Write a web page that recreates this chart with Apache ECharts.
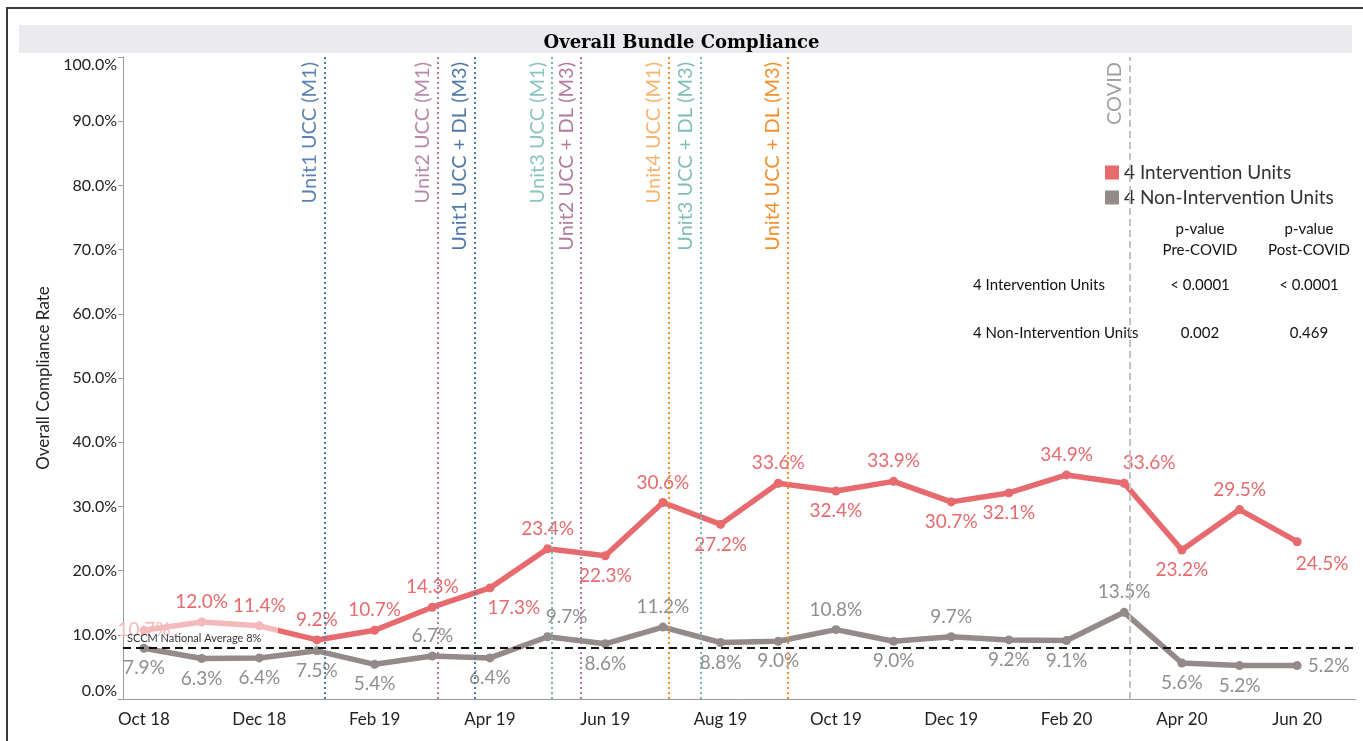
<!DOCTYPE html>
<html>
<head>
<meta charset="utf-8">
<title>Overall Bundle Compliance</title>
<script src="https://cdn.jsdelivr.net/npm/echarts@6/dist/echarts.min.js"></script>
<style>
  html, body { margin: 0; padding: 0; background: #fff; }
  #chart { width: 1363px; height: 741px; }
</style>
</head>
<body>
<div id="chart"></div>
<script>
// Data
const months = ['Oct 18', 'Nov 18', 'Dec 18', 'Jan 19', 'Feb 19', 'Mar 19', 'Apr 19', 'May 19', 'Jun 19', 'Jul 19', 'Aug 19',
  'Sep 19', 'Oct 19', 'Nov 19', 'Dec 19', 'Jan 20', 'Feb 20', 'Mar 20', 'Apr 20', 'May 20', 'Jun 20'];

const interventionRates = [10.7, 12.0, 11.4, 9.2, 10.7, 14.3, 17.3, 23.4, 22.3, 30.6, 27.2,
  33.6, 32.4, 33.9, 30.7, 32.1, 34.9, 33.6, 23.2, 29.5, 24.5];

const nonInterventionRates = [7.9, 6.3, 6.4, 7.5, 5.4, 6.7, 6.4, 9.7, 8.6, 11.2, 8.8,
  9.0, 10.8, 9.0, 9.7, 9.2, 9.1, 13.5, 5.6, 5.2, 5.2];

// milestones, position in months counted from Oct 18
const milestoneNames = ['Unit1 UCC (M1)', 'Unit2 UCC (M1)', 'Unit1 UCC + DL (M3)', 'Unit3 UCC (M1)',
  'Unit2 UCC + DL (M3)', 'Unit4 UCC (M1)', 'Unit3 UCC + DL (M3)', 'Unit4 UCC + DL (M3)'];
const milestoneAt = [3.14, 5.09, 5.74, 7.08, 7.58, 9.10, 9.65, 11.16];
const covidAt = 17.1;
const nationalAverage = 8;
const fadedUntil = 2.32; // start of the red line is drawn faded

const pHeader = [['p-value', 'Pre-COVID'], ['p-value', 'Post-COVID']];
const pRows = [
  ['4 Intervention Units', '< 0.0001', '< 0.0001'],
  ['4 Non-Intervention Units', '0.002', '0.469'],
];

// styles
const lineColors = ['#4e79a7', '#b07aa1', '#4e79a7', '#76b7b2', '#b07aa1', '#f28e2b', '#76b7b2', '#f28e2b'];
const textColors = ['#5b82b0', '#b987ab', '#4e79a7', '#8cc4bf', '#b07aa1', '#f8b36e', '#7fbdb8', '#f28e2b'];
const redPos = ['inside', 'top', 'top', 'top', 'top', 'top', 'bottom', 'top', 'bottom', 'top', 'bottom',
  'top', 'bottom', 'top', 'bottom', 'bottom', 'top', 'top', 'bottom', 'top', 'bottom'];
const greyPos = ['bottom', 'bottom', 'bottom', 'bottom', 'bottom', 'top', 'bottom', 'top', 'bottom', 'top', 'bottom',
  'bottom', 'top', 'bottom', 'top', 'bottom', 'bottom', 'top', 'bottom', 'bottom', 'right'];
const redOffset = { 6: [24, 0], 17: [25, 0], 20: [25, 2] };
const greyOffset = { 7: [19, 0] };

const RED = '#e66a6e';
const PALE = '#f4b9bb';
const GREY = '#938a89';
const FONT = 'Lato';

var chartDom = document.getElementById('chart');
var myChart = echarts.init(chartDom);
var option;

const redData = interventionRates.map((v, i) => ({
  value: [i, v],
  itemStyle: { color: i < fadedUntil ? PALE : RED },
  label: {
    position: redPos[i],
    offset: redOffset[i] || [0, 0],
    color: i === 0 ? PALE : RED,
  },
}));

const greyData = nonInterventionRates.map((v, i) => ({
  value: [i, v],
  label: { position: greyPos[i], offset: greyOffset[i] || [0, 0] },
}));

const markers = milestoneNames.map((name, i) => ({
  xAxis: milestoneAt[i],
  lineStyle: { color: lineColors[i], type: [2, 3], width: 2 },
  label: { formatter: name, color: textColors[i] },
}));
markers.push({
  xAxis: covidAt,
  lineStyle: { color: '#c4c4c4', type: [7, 4], width: 2 },
  label: { formatter: 'COVID', color: '#a0a0a0' },
});

const tableText = [];
pHeader.forEach((h, c) => {
  h.forEach((t, r) => {
    tableText.push({
      type: 'text', x: [1200, 1309][c], y: 229 + r * 21,
      style: { text: t, fontFamily: FONT, fontSize: 15, fill: '#111', align: 'center', verticalAlign: 'middle' },
    });
  });
});
pRows.forEach((row, r) => {
  row.forEach((t, c) => {
    tableText.push({
      type: 'text', x: [973, 1200, 1309][c], y: 285 + r * 48,
      style: { text: t, fontFamily: FONT, fontSize: 15, fill: '#111', align: c === 0 ? 'left' : 'center', verticalAlign: 'middle' },
    });
  });
});

option = {
  animation: false,
  textStyle: { fontFamily: FONT },
  title: {
    text: 'Overall Bundle Compliance',
    left: 'center',
    top: 29,
    textStyle: { fontFamily: 'DejaVu Serif', fontWeight: 'bold', fontSize: 18, color: '#000' },
  },
  graphic: [
    { type: 'rect', shape: { x: 7, y: 8, width: 1400, height: 800 }, style: { fill: 'none', stroke: '#3a3a3a', lineWidth: 2 }, z: -10 },
    { type: 'rect', shape: { x: 19, y: 25, width: 1333, height: 28 }, style: { fill: '#ebebef' }, z: -9 },
  ].concat(tableText),
  legend: {
    data: ['4 Intervention Units', '4 Non-Intervention Units'],
    orient: 'vertical',
    left: 1100,
    top: 158,
    icon: 'rect',
    itemWidth: 14,
    itemHeight: 14,
    itemGap: 6,
    textStyle: { fontFamily: FONT, fontSize: 19, color: '#333' },
  },
  grid: { left: 123, right: 7, top: 57, bottom: 42 },
  xAxis: {
    type: 'value',
    min: -0.364,
    max: 21.02,
    axisLine: { onZero: false, lineStyle: { color: '#9a9a9a', width: 1 } },
    axisTick: { show: false },
    splitLine: { show: false },
    axisLabel: {
      customValues: months.map((m, i) => i).filter((i) => i % 2 === 0),
      formatter: (v) => months[Math.round(v)],
      color: '#222',
      fontSize: 17,
      margin: 12,
    },
  },
  yAxis: {
    type: 'value',
    min: 0,
    max: 100,
    interval: 10,
    name: 'Overall Compliance Rate',
    nameLocation: 'middle',
    nameGap: 71,
    nameTextStyle: { color: '#222', fontSize: 17 },
    axisLine: { show: true, onZero: false, lineStyle: { color: '#9a9a9a' } },
    axisTick: { show: true, length: 5, lineStyle: { color: '#9a9a9a' } },
    splitLine: { show: false },
    axisLabel: {
      formatter: (v) => v.toFixed(1) + '%',
      color: '#222',
      fontSize: 16,
      margin: 6,
      verticalAlignMinLabel: 'bottom',
      verticalAlignMaxLabel: 'top',
    },
  },
  series: [
    {
      name: '4 Intervention Units',
      type: 'line',
      data: redData,
      symbol: 'circle',
      symbolSize: 9,
      itemStyle: { color: RED },
      lineStyle: { width: 5.5, color: RED },
      label: {
        show: true,
        formatter: (p) => p.value[1].toFixed(1) + '%',
        fontSize: 19,
        distance: 6,
      },
      z: 4,
    },
    {
      name: '4 Non-Intervention Units',
      type: 'line',
      data: greyData,
      symbol: 'circle',
      symbolSize: 9,
      itemStyle: { color: GREY },
      lineStyle: { width: 5.5, color: GREY },
      label: {
        show: true,
        formatter: (p) => p.value[1].toFixed(1) + '%',
        fontSize: 19,
        color: '#8f8f8f',
        distance: 6,
      },
      z: 3,
    },
    {
      name: 'markers',
      type: 'line',
      data: [],
      markLine: {
        silent: true,
        symbol: 'none',
        animation: false,
        label: { position: 'insideEndTop', fontSize: 20, distance: [5, 5] },
        data: markers,
      },
      z: 2,
    },
    {
      name: 'average',
      type: 'line',
      data: [],
      markLine: {
        silent: true,
        symbol: 'none',
        animation: false,
        lineStyle: { color: '#111', type: [8, 5], width: 2 },
        label: {
          position: 'insideStartTop',
          formatter: 'SCCM National Average 8%',
          fontSize: 11,
          color: '#333',
          distance: [4, 4],
        },
        data: [{ yAxis: nationalAverage }],
      },
      z: 5,
    },
  ],
};

option && myChart.setOption(option);

// faded start of the red line: gradient in pixel space, split at the axis position
const splitX = myChart.convertToPixel({ xAxisIndex: 0 }, fadedUntil);
const f = splitX / 1363;
myChart.setOption({
  series: [{
    name: '4 Intervention Units',
    lineStyle: {
      color: new echarts.graphic.LinearGradient(0, 0, 1363, 0, [
        { offset: 0, color: PALE },
        { offset: f, color: PALE },
        { offset: f, color: RED },
        { offset: 1, color: RED },
      ], true),
    },
  }],
});
</script>
</body>
</html>
